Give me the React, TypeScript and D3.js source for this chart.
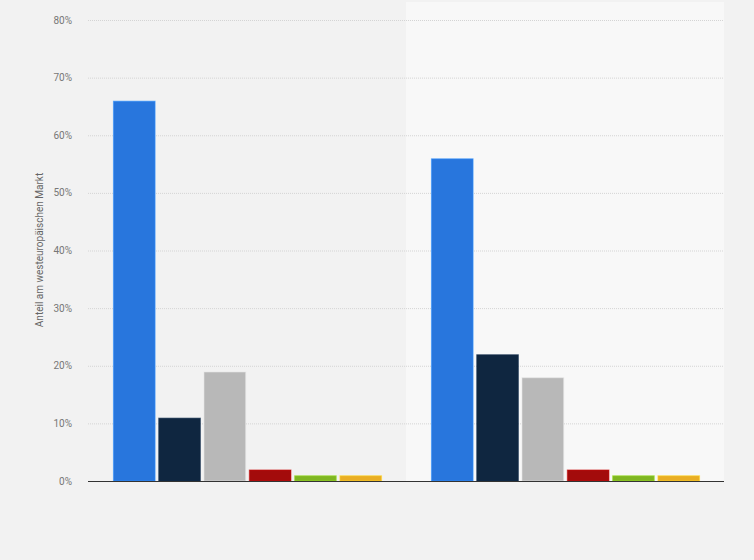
import React, { useEffect, useRef } from "react";
import * as d3 from "d3";

const groups = ["A", "B"];
const seriesNames = ["s1", "s2", "s3", "s4", "s5", "s6"];
const seriesColors = ["#2876dd", "#0f2640", "#b8b8b8", "#a30b0b", "#7fb622", "#e9ae24"];
const valuesA = [66, 11, 19, 2, 1, 1];
const valuesB = [56, 22, 18, 2, 1, 1];
const yTicks = [0, 10, 20, 30, 40, 50, 60, 70, 80];

const W = 754;
const H = 560;

const App: React.FC = () => {
  const svgRef = useRef<SVGSVGElement | null>(null);

  useEffect(() => {
    if (!svgRef.current) return;
    const svg = d3.select(svgRef.current);
    svg.selectAll("*").remove();

    const margin = { top: 20, right: 30, bottom: 79, left: 88 };
    const innerW = W - margin.left - margin.right;
    const innerH = H - margin.top - margin.bottom;

    svg.append("rect").attr("width", W).attr("height", H).attr("fill", "#f2f2f2");

    const g = svg.append("g").attr("transform", `translate(${margin.left},${margin.top})`);

    const x0 = d3.scaleBand<string>().domain(groups).range([0, innerW]);
    const x1 = d3
      .scaleBand<string>()
      .domain(seriesNames)
      .range([0, x0.bandwidth()])
      .paddingInner(0.08)
      .paddingOuter(0.55);
    const y = d3.scaleLinear().domain([0, 80]).range([innerH, 0]);

    // alternating panel shading
    g.append("rect")
      .attr("x", x0("B")!)
      .attr("y", -18)
      .attr("width", x0.bandwidth())
      .attr("height", innerH + 18)
      .attr("fill", "#f8f8f8");

    // gridlines
    g.selectAll(".grid")
      .data(yTicks.filter((t) => t > 0))
      .enter()
      .append("line")
      .attr("x1", 0)
      .attr("x2", innerW)
      .attr("y1", (d) => y(d) + 0.5)
      .attr("y2", (d) => y(d) + 0.5)
      .attr("stroke", "#d4d4d4")
      .attr("stroke-width", 1)
      .attr("stroke-dasharray", "1,1");

    // tick labels
    g.selectAll(".tick")
      .data(yTicks)
      .enter()
      .append("text")
      .attr("x", -16)
      .attr("y", (d) => y(d))
      .attr("dy", "0.35em")
      .attr("text-anchor", "end")
      .attr("font-family", "Roboto, Arial, sans-serif")
      .attr("font-size", 10)
      .attr("fill", "#777")
      .text((d) => `${d}%`);

    const allValues = [valuesA, valuesB];
    groups.forEach((grp, gi) => {
      const gg = g.append("g").attr("transform", `translate(${x0(grp)},0)`);
      gg.selectAll("rect")
        .data(allValues[gi])
        .enter()
        .append("rect")
        .attr("x", (_, i) => x1(seriesNames[i])! + 0.5)
        .attr("y", (d) => y(d) + 0.5)
        .attr("width", x1.bandwidth())
        .attr("height", (d) => innerH - y(d) - 0.5)
        .attr("fill", (_, i) => seriesColors[i])
        .attr("stroke", (_, i) => d3.color(seriesColors[i])!.brighter(0.6).formatHex())
        .attr("stroke-opacity", 0.6)
        .attr("stroke-width", 1);
    });

    // baseline
    g.append("line")
      .attr("x1", 0)
      .attr("x2", innerW)
      .attr("y1", innerH + 0.5)
      .attr("y2", innerH + 0.5)
      .attr("stroke", "#333")
      .attr("stroke-width", 1);

    // y axis title
    svg
      .append("text")
      .attr("transform", `translate(43,250) rotate(-90)`)
      .attr("text-anchor", "middle")
      .attr("font-family", "Roboto, Arial, sans-serif")
      .attr("font-size", 10)
      .attr("fill", "#666")
      .text("Anteil am westeuropäischen Markt");
  }, []);

  return (
    <div style={{ position: "absolute", left: 0, top: 0, width: W, height: H }}>
      <svg ref={svgRef} width={W} height={H} style={{ display: "block" }} />
    </div>
  );
};

export default App;
